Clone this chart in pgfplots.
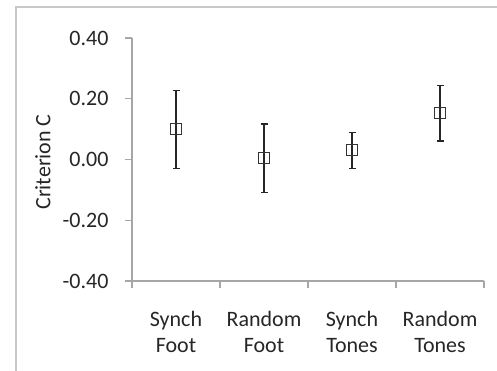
\documentclass[border=0pt]{standalone}
\usepackage{pgfplots}
\pgfplotsset{compat=1.18}
\usepackage{fontspec}
\setmainfont{Carlito}
\definecolor{axgray}{HTML}{A6A6A6}
\definecolor{frgray}{HTML}{C8C8C8}
\definecolor{txt}{HTML}{262626}
\begin{document}
\begin{tikzpicture}
\path[use as bounding box] (0pt,0pt) rectangle (497pt,-371pt);
\draw[color=frgray, line width=2pt] (16pt,-380pt) -- (16pt,-7pt) -- (510pt,-7pt);
\begin{axis}[
  at={(132pt,-281pt)}, anchor=south west,
  scale only axis, width=352pt, height=243pt,
  xmin=0, xmax=4, ymin=-0.4, ymax=0.4,
  axis x line*=bottom, axis y line*=left,
  axis line style={draw=axgray, line width=1.3pt, -},
  tick align=outside,
  major tick length=7pt,
  tick style={draw=axgray, line width=1.3pt},
  xtick={0,1,2,3,4}, xticklabels={},
  extra x ticks={0.5,1.5,2.5,3.5},
  extra x tick labels={{Synch\\Foot},{Random\\Foot},{Synch\\Tones},{Random\\Tones}},
  extra x tick style={major tick length=0pt, tick style={draw=none},
     tick label style={align=center, yshift=-27pt}},
  ytick={-0.4,-0.2,0,0.2,0.4},
  yticklabels={-0.40,-0.20,0.00,0.20,0.40},
  y tick label style={xshift=-13pt},
  tick label style={font=\fontsize{22}{26}\selectfont, text=txt},
  ylabel={Criterion C},
  every axis y label/.style={at={(axis description cs:-0.253,0.49)}, rotate=90, anchor=center, font=\fontsize{22}{26}\selectfont, text=txt},
  clip=false,
]
\addplot[draw=none, mark=square, mark size=5.5pt, mark options={draw=black!80, line width=1.1pt, fill=none},
  error bars/.cd, y dir=both, y explicit,
  error bar style={draw=black!85, line width=1.1pt},
  error mark options={rotate=90, mark size=3.5pt, line width=1.1pt, draw=black!85}]
  table[x=x, y=y, y error=e] {
x   y     e
0.5 0.099 0.129
1.5 0.004 0.113
2.5 0.030 0.060
3.5 0.153 0.092
};
\end{axis}
\end{tikzpicture}
\end{document}
